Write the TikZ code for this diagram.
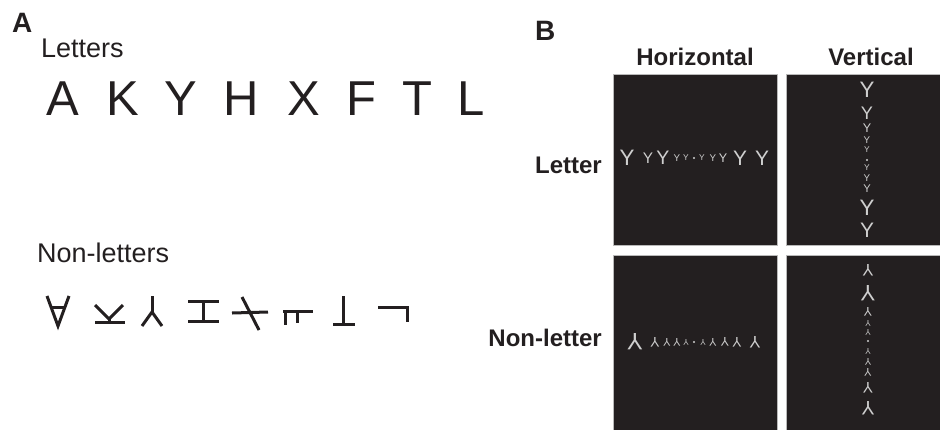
\documentclass[tikz,border=0pt]{standalone}
\usepackage{fontspec}
\setmainfont{Liberation Sans}
\definecolor{ink}{HTML}{231F20}
\definecolor{glyph}{HTML}{CFCFCF}
\begin{document}
\begin{tikzpicture}[x=1pt,y=-1pt,
  lab/.style={inner sep=0pt,text=ink},
  panel/.style={fill=ink,draw=gray!55,line width=0.8pt},
  stroke/.style={draw=ink,line width=3pt},
  bigletter/.style={inner sep=0pt,text=ink,anchor=base,font=\fontsize{49}{49}\selectfont}]
\useasboundingbox (0,0) rectangle (940,429);
% Panel A
\node[lab,anchor=base west,font=\bfseries\fontsize{28}{28}\selectfont] (la) at (12,32) {A};
\node[lab,anchor=base west,font=\fontsize{27}{27}\selectfont] (letters) at (41,57) {Letters};
\foreach \c/\x [count=\i] in {A/62.5,K/123,Y/181,H/241,X/303.5,F/361,T/417,L/471}
  \node[bigletter] (let\i) at (\x,115) {\c};
\node[lab,anchor=base west,font=\fontsize{27}{27}\selectfont] (nonletters) at (37,262) {Non-letters};
% non-letters
\draw[stroke] (47,296) -- (58,326) -- (69,296);
\draw[stroke] (51,307) -- (65,307);
\draw[stroke] (95,305) -- (109,319) -- (123,305);
\draw[stroke] (109,318) -- (109,322);
\draw[stroke] (95,322) -- (125,322);
\draw[stroke] (152,296) -- (152,312);
\draw[stroke] (142,326) -- (152,312) -- (162,326);
\draw[stroke] (188,301) -- (219,301);
\draw[stroke] (188,321) -- (219,321);
\draw[stroke] (203,301) -- (203,321);
\draw[stroke] (232,313) -- (268,312);
\draw[stroke] (242,297) -- (259,330);
\draw[stroke] (283,311) -- (313,311);
\draw[stroke] (285,311) -- (285,325);
\draw[stroke] (297,311) -- (297,323);
\draw[stroke] (343,296) -- (343,324);
\draw[stroke] (333,324) -- (355,324);
\draw[stroke] (378,307) -- (407,307) -- (407,322);
% Panel B
\node[lab,anchor=base west,font=\bfseries\fontsize{28}{28}\selectfont] (lb) at (535,40) {B};
\node[lab,anchor=base,font=\bfseries\fontsize{24}{24}\selectfont] (hor) at (695,65) {Horizontal};
\node[lab,anchor=base,font=\bfseries\fontsize{24}{24}\selectfont] (ver) at (871,65) {Vertical};
\node[lab,anchor=base east,font=\bfseries\fontsize{24}{24}\selectfont] (rowl) at (602,173) {Letter};
\node[lab,anchor=base east,font=\bfseries\fontsize{24}{24}\selectfont] (rown) at (602,346) {Non-letter};
\draw[panel] (613,74) rectangle (777,245);
\draw[panel] (786,74) rectangle (950,245);
\draw[panel] (613,255) rectangle (777,440);
\draw[panel] (786,255) rectangle (950,440);
% Letter horizontal
\foreach \x/\h [count=\i, evaluate=\h as \fs using \h/0.716] in {627/16,648/11,663/14,677/7,686/6,702/6,713/7,723/9,740/15,762/15}
  \node[inner sep=0pt,text=glyph,font=\fontsize{\fs}{\fs}\selectfont] (lh\i) at (\x,158) {Y};
\fill[glyph] (694,158) circle (1.1) node (lhd) {};
% Letter vertical
\foreach \y/\h [count=\i, evaluate=\h as \fs using \h/0.716] in {90/16,113/13,128/9,140/7,150/6,168/6,178/7,189/8,208/16,230/15}
  \node[inner sep=0pt,text=glyph,font=\fontsize{\fs}{\fs}\selectfont] (lv\i) at (867,\y) {Y};
\fill[glyph] (867,160) circle (1.1) node (lvd) {};
% Non-letter horizontal
\foreach \x/\h [count=\i, evaluate=\h as \fs using \h/0.716] in {635/17,655/10,667/8,677/8,686/6,703/6,713/8,725/9,737/10,755/12}
  \node[inner sep=0pt,text=glyph,rotate=180,font=\fontsize{\fs}{\fs}\selectfont] (nh\i) at (\x,342) {Y};
\fill[glyph] (694,342) circle (1.1) node (nhd) {};
% Non-letter vertical
\foreach \y/\h [count=\i, evaluate=\h as \fs using \h/0.716] in {270/12,293/16,312/9,323/6,332/6,351/6,362/7,372/8,388/11,408/14}
  \node[inner sep=0pt,text=glyph,rotate=180,font=\fontsize{\fs}{\fs}\selectfont] (nv\i) at (868,\y) {Y};
\fill[glyph] (868,341) circle (1.1) node (nvd) {};
\end{tikzpicture}
\end{document}
